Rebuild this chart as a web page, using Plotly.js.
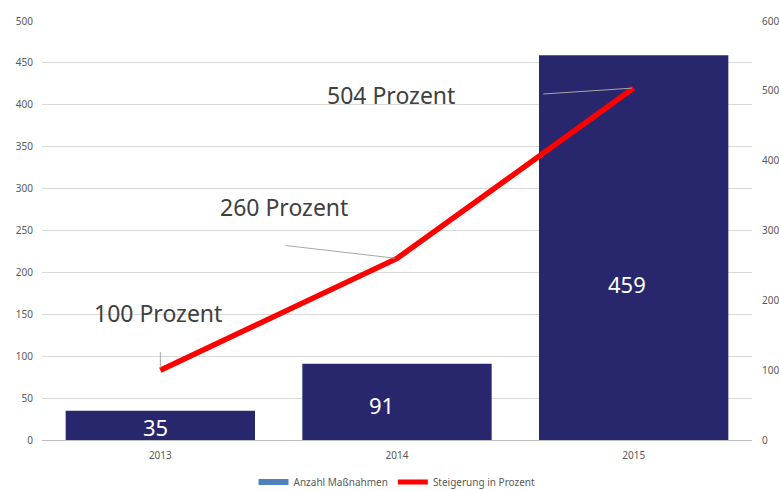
<!DOCTYPE html>
<html><head><meta charset="utf-8">
<script src="https://cdn.plot.ly/plotly-3.0.1.min.js"></script>
<style>html,body{margin:0;padding:0;background:#fff}#chart{width:779px;height:490px}</style>
</head><body><div id="chart"></div>
<script>
// Data
var years = ['2013', '2014', '2015'];
var anzahl = [35, 91, 459];
var steigerung = [100, 260, 504];
var steigerungLabels = ['100 Prozent', '260 Prozent', '504 Prozent'];
var leftTicks = [0, 50, 100, 150, 200, 250, 300, 350, 400, 450, 500];
var rightTicks = [0, 100, 200, 300, 400, 500, 600];

// Styling (pixel offsets for labels)
var barLabelShift = [[-5, -16], [-16, -41], [-7, -229]];
var leaderTail = [[0, -19], [-112, -13], [-91, 6]];
var textShift = [[-2, 57], [-113, 51], [-243, -7]];

var FONT = 'Noto Sans, Liberation Sans, sans-serif';
var barColor = '#28276e';

var traces = [
  {type: 'bar', x: years, y: anzahl, marker: {color: barColor}, showlegend: false, hoverinfo: 'none'},
  {type: 'scatter', mode: 'lines', x: years, y: steigerung, yaxis: 'y2',
   line: {color: '#ff0000', width: 5.5}, showlegend: false, hoverinfo: 'none'},
  // legend entries
  {type: 'scatter', mode: 'lines', x: [years[0]], y: [null], name: 'Anzahl Maßnahmen',
   line: {color: '#4f81bd', width: 6}},
  {type: 'scatter', mode: 'lines', x: [years[0]], y: [null], name: 'Steigerung in Prozent', yaxis: 'y2',
   line: {color: '#ff0000', width: 5}}
];

var annotations = [];
years.forEach(function (yr, i) {
  annotations.push({x: i, y: anzahl[i], xref: 'x', yref: 'y', text: String(anzahl[i]),
    showarrow: false, xshift: barLabelShift[i][0], yshift: barLabelShift[i][1],
    font: {family: FONT, size: 22, color: '#ffffff'}});
  annotations.push({x: i, y: steigerung[i], xref: 'x', yref: 'y2', text: ' ',
    font: {size: 1}, borderpad: 0,
    showarrow: true, arrowhead: 0, arrowwidth: 1, arrowcolor: '#a6a6a6', standoff: 2,
    ax: leaderTail[i][0], ay: leaderTail[i][1]});
  annotations.push({x: i, y: steigerung[i], xref: 'x', yref: 'y2', text: steigerungLabels[i],
    showarrow: false, xshift: textShift[i][0], yshift: textShift[i][1],
    font: {family: FONT, size: 23, color: '#404040'}});
});

var layout = {
  width: 779, height: 490,
  margin: {l: 42, r: 27, t: 21, b: 50, pad: 0, autoexpand: false},
  paper_bgcolor: '#ffffff', plot_bgcolor: '#ffffff',
  font: {family: FONT, size: 10, color: '#595959'},
  bargap: 0.2,
  xaxis: {type: 'category', categoryorder: 'array', categoryarray: years, range: [-0.5, 2.5],
    showgrid: false, showline: true, linecolor: '#bfbfbf', linewidth: 1,
    ticks: '', tickfont: {size: 10, color: '#595959'}, ticklabelstandoff: 6, fixedrange: true},
  yaxis: {range: [0, 500], tickvals: leftTicks, showgrid: true, gridcolor: '#d9d9d9',
    zeroline: false, showline: false, ticks: '', ticklabelstandoff: 8,
    tickfont: {size: 10, color: '#595959'}},
  yaxis2: {range: [0, 600], tickvals: rightTicks, overlaying: 'y', side: 'right',
    showgrid: false, zeroline: false, showline: false, ticks: '', ticklabelstandoff: 9,
    tickfont: {size: 10, color: '#595959'}},
  legend: {orientation: 'h', x: 0.5, xanchor: 'center', y: -0.1, yanchor: 'middle',
    font: {size: 10, color: '#595959'}, itemwidth: 30, tracegroupgap: 0},
  annotations: annotations,
  showlegend: true
};

Plotly.newPlot('chart', traces, layout, {displayModeBar: false, staticPlot: true});
</script>
</body></html>
